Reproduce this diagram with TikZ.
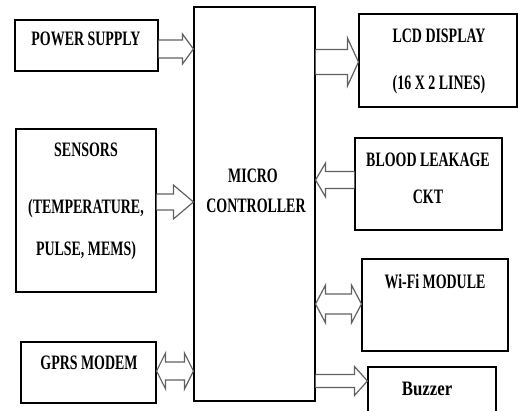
\documentclass[tikz,border=0pt]{standalone}
\usepackage{fontspec}
\usepackage{graphicx}
\setmainfont{Liberation Serif}
\usetikzlibrary{calc}
\newcommand\nt[1]{\scalebox{0.68}[1]{#1}}
\newcommand\rarr[5]{\draw[blk] let \p1=(#1), \p2=(#2) in (\x1,\y1+#3) -- (\x2-#5,\y1+#3) -- (\x2-#5,\y1+#4) -- (\x2,\y1) -- (\x2-#5,\y1-#4) -- (\x2-#5,\y1-#3) -- (\x1,\y1-#3);}
\newcommand\larr[5]{\draw[blk] let \p1=(#1), \p2=(#2) in (\x2,\y1+#3) -- (\x1+#5,\y1+#3) -- (\x1+#5,\y1+#4) -- (\x1,\y1) -- (\x1+#5,\y1-#4) -- (\x1+#5,\y1-#3) -- (\x2,\y1-#3);}
\newcommand\darr[5]{\draw[blk] let \p1=(#1), \p2=(#2) in (\x1,\y1) -- (\x1+#5,\y1+#4) -- (\x1+#5,\y1+#3) -- (\x2-#5,\y1+#3) -- (\x2-#5,\y1+#4) -- (\x2,\y1) -- (\x2-#5,\y1-#4) -- (\x2-#5,\y1-#3) -- (\x1+#5,\y1-#3) -- (\x1+#5,\y1-#4) -- cycle;}
\tikzset{
  box/.style={draw=black, line width=1.1pt, inner sep=0pt, fill=none},
  txt/.style={inner sep=0pt, anchor=base, font=\fontsize{20.5}{24}\selectfont\bfseries},
  blk/.style={draw=black!62, line width=1.2pt, fill=white, line join=miter}
}
\begin{document}
\begin{tikzpicture}[x=1pt,y=-1pt]
\useasboundingbox (0,0) rectangle (518,411);
\clip (0,0) rectangle (518,411);
\fill[white] (0,0) rectangle (518,411);
% boxes
\node[box, minimum width=143pt, minimum height=51pt] (ps) at (86.5,45.5) {};
\node[box, minimum width=121pt, minimum height=394pt] (mc) at (254.5,204) {};
\node[box, minimum width=158pt, minimum height=93pt] (lcd) at (438,60.5) {};
\node[box, minimum width=140pt, minimum height=163pt] (sen) at (86,210.5) {};
\node[box, minimum width=147pt, minimum height=92pt] (bl) at (428.5,184) {};
\node[box, minimum width=146pt, minimum height=92pt] (wifi) at (435,305) {};
\node[box, minimum width=128pt, minimum height=56pt] (buz) at (432,395) {};
\node[box, minimum width=135pt, minimum height=61pt] (gprs) at (88.5,372.5) {};
% texts
\node[txt] (t1) at (86,46) {\nt{POWER SUPPLY}};
\node[txt] (t2) at (439,43) {\nt{LCD DISPLAY}};
\node[txt] (t3) at (439,90) {\nt{(16 X 2 LINES)}};
\node[txt] (t4) at (86,157) {\nt{SENSORS}};
\node[txt] (t5) at (86,214) {\nt{(TEMPERATURE,}};
\node[txt] (t6) at (86,255) {\nt{PULSE, MEMS)}};
\node[txt] (t7) at (253,183) {\nt{MICRO}};
\node[txt] (t8) at (256,213) {\nt{CONTROLLER}};
\node[txt] (t9) at (428,167) {\nt{BLOOD LEAKAGE}};
\node[txt] (t10) at (428,204) {\nt{CKT}};
\node[txt] (t11) at (435,288) {\nt{Wi-Fi MODULE}};
\node[txt] (t12) at (427,395) {\scalebox{0.82}[1]{Buzzer}};
\node[txt] (t13) at (89,369) {\nt{GPRS MODEM}};
% block arrows
\rarr{ps.east |- 0,49}{mc.west |- 0,49}{9pt}{15pt}{11pt}
\rarr{mc.east |- 0,62}{lcd.west |- 0,62}{12.5pt}{24pt}{11pt}
\rarr{sen.east |- 0,202}{mc.west |- 0,202}{8pt}{17pt}{20pt}
\larr{mc.east |- 0,180}{bl.west |- 0,180}{8.5pt}{17pt}{10pt}
\darr{mc.east |- 0,304}{wifi.west |- 0,304}{10pt}{19pt}{10pt}
\rarr{mc.east |- 0,381}{buz.west |- 0,381}{6.5pt}{14.5pt}{13pt}
\darr{gprs.east |- 0,371}{mc.west |- 0,371}{9pt}{18pt}{9pt}
\end{tikzpicture}
\end{document}
